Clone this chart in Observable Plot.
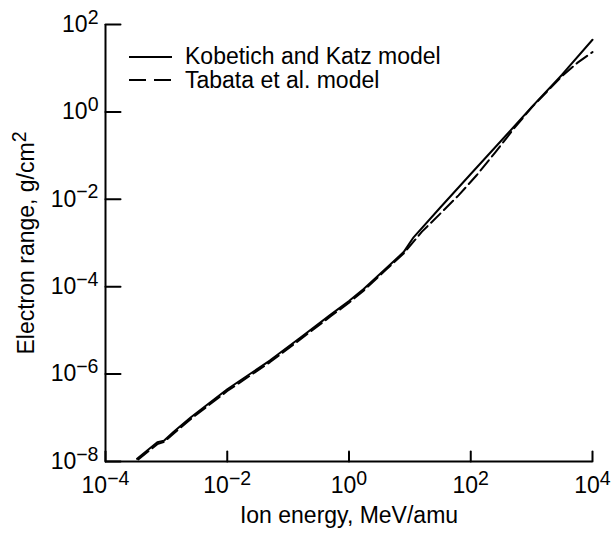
<!DOCTYPE html>
<html><head><meta charset="utf-8">
<script src="https://cdn.jsdelivr.net/npm/d3@7"></script>
<script src="https://cdn.jsdelivr.net/npm/@observablehq/plot@0.6"></script>
<style>
body{margin:0;background:#fff;}
#wrap{position:relative;width:615px;height:533px;font-family:"Liberation Sans",Arial,sans-serif;}
#legend{position:absolute;left:0;top:0;pointer-events:none;}
</style></head><body><div id="wrap"></div>
<script>
// Kobetich and Katz model (solid)
const kkEnergy = [3.3e-4, 7.1e-4, 9.1e-4, 1.32e-3, 2.5e-3, 1e-2, 0.05, 0.16, 0.5, 1, 1.74, 4, 7.9, 11.5, 31.6, 100, 316, 1000, 3160, 10000];
const kkRange  = [1.15e-8, 2.75e-8, 3.0e-8, 4.8e-8, 1.02e-7, 4.5e-7, 2.04e-6, 6.9e-6, 2.3e-5, 4.7e-5, 8.9e-5, 2.57e-4, 6.2e-4, 1.35e-3, 6.5e-3, 0.038, 0.219, 1.29, 7.1, 44.7];
// Tabata et al. model (dashed)
const tbEnergy = [3.45e-4, 7.1e-4, 9.1e-4, 1.32e-3, 2.5e-3, 1e-2, 0.05, 0.16, 0.5, 1, 1.74, 4, 7.9, 15.8, 31.6, 63, 126, 251, 500, 1000, 3160, 5620, 10000];
const tbRange  = [1.12e-8, 2.5e-8, 2.8e-8, 4.4e-8, 9.3e-8, 4.1e-7, 1.86e-6, 6.3e-6, 2.1e-5, 4.3e-5, 8.1e-5, 2.4e-4, 5.75e-4, 1.82e-3, 4.7e-3, 0.0123, 0.036, 0.117, 0.40, 1.26, 6.6, 13.2, 23.4];

const xTicks = [1e-4, 1e-2, 1, 1e2, 1e4];
const yTicks = [1e-8, 1e-6, 1e-4, 1e-2, 1, 1e2];
const legendLabels = ["Kobetich and Katz model", "Tabata et al. model"];
const xTitle = "Ion energy, MeV/amu";
const yTitle = "Electron range, g/cm^2";

const kk = kkEnergy.map((e, i) => ({energy: e, range: kkRange[i]}));
const tb = tbEnergy.map((e, i) => ({energy: e, range: tbRange[i]}));

const fmt = d => "10^" + Math.round(Math.log10(d));
const font = '"Liberation Sans", Arial, sans-serif';
const tickShape = {draw(context, l) { context.moveTo(0, 0); context.lineTo(0, -l); }};

const chart = Plot.plot({
  width: 615, height: 533,
  marginLeft: 105, marginRight: 23, marginTop: 24, marginBottom: 72,
  style: {fontFamily: font, fontSize: "23px", color: "#000", background: "#fff", overflow: "visible"},
  x: {type: "log", domain: [1e-4, 1e4]},
  y: {type: "log", domain: [1e-8, 1e2]},
  marks: [
    Plot.ruleX([1e-4], {strokeWidth: 2}),
    Plot.ruleY([1e-8], {strokeWidth: 2}),
    // inward ticks
    Plot.vector(xTicks, {x: d => d, frameAnchor: "bottom", length: 10, rotate: 0, anchor: "start", shape: tickShape, strokeWidth: 2, stroke: "#000"}),
    Plot.vector(yTicks, {y: d => d, frameAnchor: "left", length: 15, rotate: 90, anchor: "start", shape: tickShape, strokeWidth: 2, stroke: "#000"}),
    Plot.axisX(xTicks, {tickSize: 0, tickPadding: 15, tickFormat: fmt, label: xTitle, labelAnchor: "center", labelOffset: 61, labelArrow: "none"}),
    Plot.axisY(yTicks, {tickSize: 0, tickPadding: 7, tickFormat: fmt, label: yTitle, labelAnchor: "center", labelOffset: 88, labelArrow: "none"}),
    Plot.line(kk, {x: "energy", y: "range", strokeWidth: 2}),
    Plot.line(tb, {x: "energy", y: "range", strokeWidth: 2, strokeDasharray: "13,5"})
  ]
});

const ns = "http://www.w3.org/2000/svg";
chart.querySelectorAll("text").forEach(t => {
  const s = t.textContent;
  const m = s.match(/^(.*?)\^(.*)$/);
  if (!m) return;
  t.textContent = "";
  const a = document.createElementNS(ns, "tspan");
  a.textContent = m[1];
  const b = document.createElementNS(ns, "tspan");
  b.textContent = m[2].replace("-", "\u2212");
  b.setAttribute("dy", "-0.42em");
  b.style.fontSize = "0.85em";
  t.append(a, b);
});

const wrap = document.getElementById("wrap");
wrap.appendChild(chart);

const leg = d3.create("svg").attr("id", "legend").attr("width", 615).attr("height", 100)
  .style("font-family", font).style("font-size", "23px");
const rows = [{y: 57, base: 64, dash: null}, {y: 80, base: 88, dash: "17,8"}];
rows.forEach((r, i) => {
  leg.append("line").attr("x1", 129).attr("x2", 172).attr("y1", r.y).attr("y2", r.y)
    .attr("stroke", "#000").attr("stroke-width", 2).attr("stroke-dasharray", r.dash);
  leg.append("text").attr("x", 185).attr("y", r.base).attr("fill", "#000").text(legendLabels[i]);
});
wrap.appendChild(leg.node());
</script></body></html>
